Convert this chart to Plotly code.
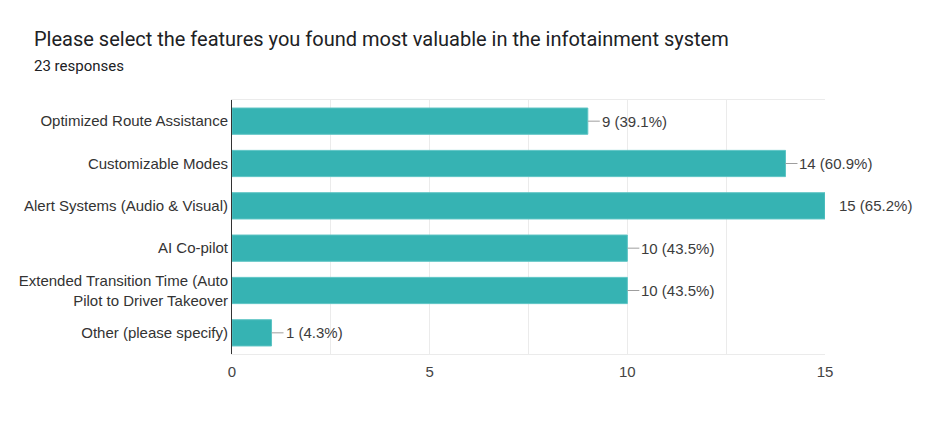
import plotly.graph_objects as go

# survey answers, top to bottom as shown
features = [
    "Optimized Route Assistance",
    "Customizable Modes",
    "Alert Systems (Audio & Visual)",
    "AI Co-pilot",
    "Extended Transition Time (Auto<br>Pilot to Driver Takeover",
    "Other (please specify)",
]
counts = [9, 14, 15, 10, 10, 1]
percents = ["39.1%", "60.9%", "65.2%", "43.5%", "43.5%", "4.3%"]
total_responses = 23
x_max = 15

title_font = "Roboto, Arial, sans-serif"
font = "Liberation Sans, Arial, sans-serif"

ML, MR, MT, MB = 224, 133, 92, 78
plot_w = 950 - ML - MR

fig = go.Figure()
fig.add_trace(go.Bar(
    x=counts,
    y=features,
    orientation="h",
    marker=dict(color="#36b3b3", line=dict(color="#5cc4c4", width=1)),
    width=0.62,
    hoverinfo="skip",
))

# value labels with a small grey leader line
for feat, c, p in zip(features, counts, percents):
    at_edge = c >= x_max
    fig.add_annotation(
        x=c, y=feat, xref="x", yref="y",
        text=f"{c} ({p})",
        showarrow=True, arrowhead=0, arrowwidth=1,
        arrowcolor="rgba(0,0,0,0)" if at_edge else "#9e9e9e",
        ax=12, ay=0, xanchor="left",
        font=dict(family=font, size=15, color="#3c3c3c"),
    )

fig.update_layout(
    width=950, height=424,
    margin=dict(l=ML, r=MR, t=MT, b=MB),
    paper_bgcolor="white", plot_bgcolor="white",
    showlegend=False,
    font=dict(family=font, size=15, color="#333"),
)
fig.add_annotation(
    text="Please select the features you found most valuable in the infotainment system",
    xref="paper", yref="paper", x=-200 / plot_w, y=1.0, yshift=61,
    xanchor="left", yanchor="middle", showarrow=False,
    font=dict(family=title_font, size=20, color="#202124"),
)
fig.add_annotation(
    text=f"{total_responses} responses",
    xref="paper", yref="paper", x=-200 / plot_w, y=1.0, yshift=34,
    xanchor="left", yanchor="middle", showarrow=False,
    font=dict(family=title_font, size=15, color="#202124"),
)

fig.update_xaxes(
    range=[0, x_max], dtick=5, tick0=0,
    showgrid=True, gridcolor="#ebebeb", gridwidth=1,
    minor=dict(dtick=2.5, showgrid=True, gridcolor="#ebebeb"),
    zeroline=False,
    showline=True, linecolor="#ebebeb", mirror=True,
    ticks="", ticklabelstandoff=4,
    tickfont=dict(size=15, color="#444"),
)
fig.update_yaxes(
    autorange="reversed",
    showgrid=False, zeroline=False,
    showline=True, linecolor="#333", linewidth=1,
    ticks="", ticklabelstandoff=0,
    tickfont=dict(size=15, color="#333"),
)

fig.write_html("out.html")
